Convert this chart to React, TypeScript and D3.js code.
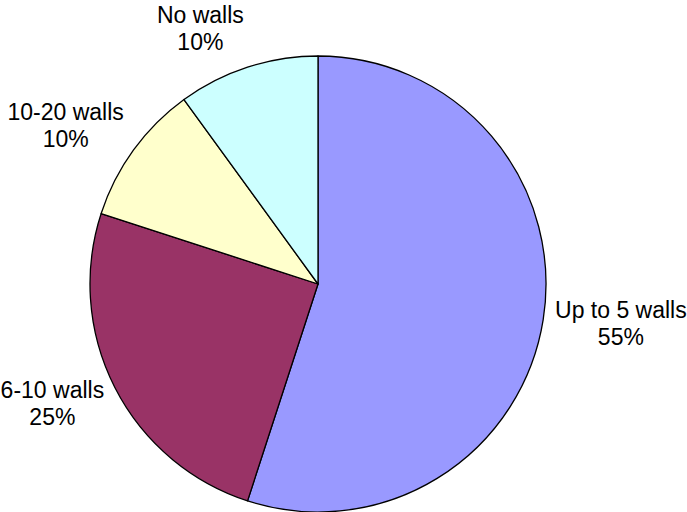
import React from "react";
import * as d3 from "d3";

const categories = ["Up to 5 walls", "6-10 walls", "10-20 walls", "No walls"];
const values = [55, 25, 10, 10];
const colors = ["#9999FF", "#993366", "#FFFFCC", "#CCFFFF"];

const W = 687;
const H = 512;
const FONT = "'Liberation Sans', Arial, sans-serif";
const FS = 23;
const LH = 27;

function measure(text: string) {
  const c = document.createElement("canvas").getContext("2d");
  if (!c) return text.length * FS * 0.5;
  c.font = `${FS}px ${FONT}`;
  return c.measureText(text).width;
}

export default function App() {
  const cx = 318;
  const cy = 284;
  const r = 228;
  const labelR = 240;
  const total = d3.sum(values);
  const pie = d3
    .pie<number>()
    .sort(null)
    .value((d) => d);
  const arcs = pie(values);
  const arc = d3.arc<d3.PieArcDatum<number>>().innerRadius(0).outerRadius(r);

  return (
    <svg
      width={W}
      height={H}
      style={{ position: "absolute", left: 0, top: 0, background: "#fff" }}
    >
      <g transform={`translate(${cx},${cy})`}>
        {arcs.map((a, i) => (
          <path
            key={i}
            d={arc(a) || ""}
            fill={colors[i]}
            stroke="#000"
            strokeWidth={1.3}
            strokeLinejoin="round"
          />
        ))}
      </g>
      {arcs.map((a, i) => {
        const th = (a.startAngle + a.endAngle) / 2;
        const s = Math.sin(th);
        const c = Math.cos(th);
        const pct = `${Math.round((values[i] / total) * 100)}%`;
        const hw = Math.max(measure(categories[i]), measure(pct)) / 2;
        const hh = LH;
        const x = cx + labelR * s + hw * Math.sign(s);
        const y = cy - labelR * c - hh * c;
        return (
          <text
            key={i}
            x={x}
            y={y}
            textAnchor="middle"
            fontFamily={FONT}
            fontSize={FS}
            fill="#000"
          >
            <tspan x={x} dy={-LH / 2 + 6}>
              {categories[i]}
            </tspan>
            <tspan x={x} dy={LH}>
              {pct}
            </tspan>
          </text>
        );
      })}
    </svg>
  );
}
